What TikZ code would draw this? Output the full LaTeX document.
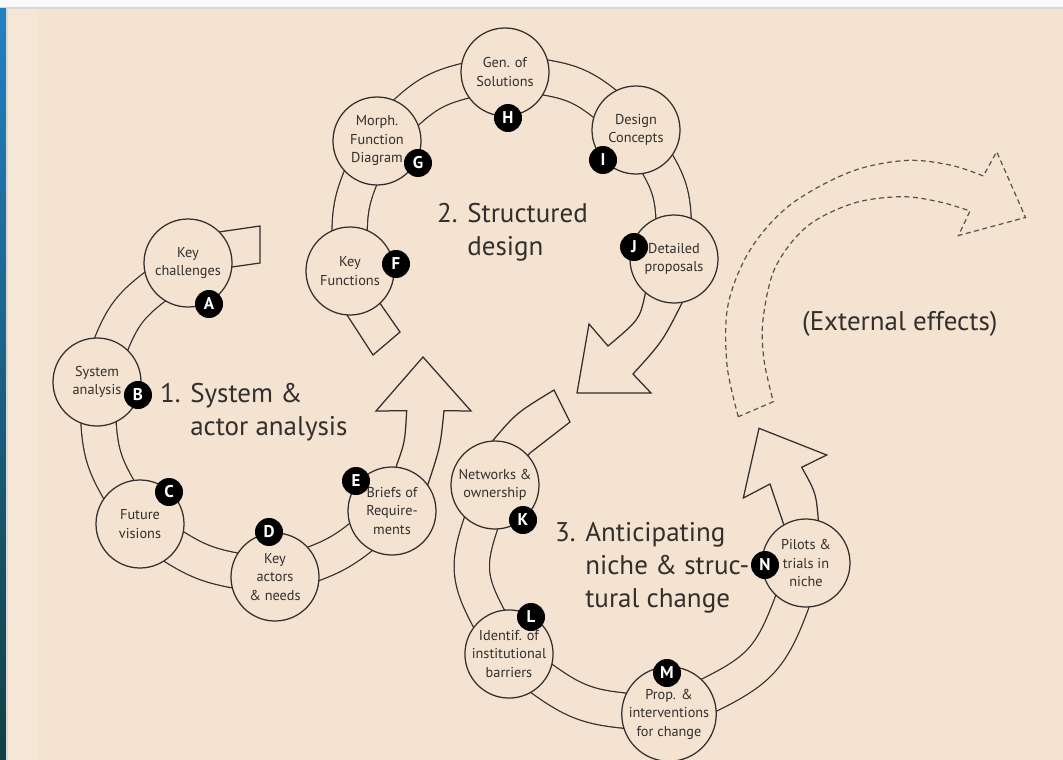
\documentclass[tikz,border=0pt]{standalone}
\usepackage{fontspec}
\setmainfont{PT Sans}
\usetikzlibrary{calc}
\pgfdeclarelayer{back}
\pgfdeclarelayer{bands}
\pgfsetlayers{back,bands,main}
\definecolor{paper}{RGB}{243,227,208}
\definecolor{paperlight}{RGB}{245,231,214}
\definecolor{ink}{RGB}{50,47,45}
\definecolor{dashink}{RGB}{85,82,78}
\definecolor{frame}{RGB}{214,216,220}
\definecolor{seablue}{RGB}{34,128,195}
\definecolor{seamid}{RGB}{22,108,176}
\definecolor{seadark}{RGB}{18,64,66}

\tikzset{
  stage/.style={circle, draw=ink, line width=1.25pt, fill=paper, minimum size=88pt,
    inner sep=0pt, align=center, text=ink, font=\fontsize{14.3}{18.5}\selectfont},
  badge/.style={circle, fill=black, text=white, minimum size=28pt, inner sep=0pt,
    font=\bfseries\fontsize{17}{17}\selectfont},
  band/.style={draw=ink, line width=1.25pt, double=paper, double distance=34pt},
  outline/.style={draw=ink, line width=1.25pt, line join=miter},
  phase/.style={anchor=base west, inner sep=0pt, align=left, text=ink,
    font=\fontsize{27}{33}\selectfont},
  effect/.style={draw=dashink, line width=1.2pt, dash pattern=on 5pt off 3.5pt},
}

\begin{document}
\begin{tikzpicture}[x=1pt,y=-1pt]
\useasboundingbox (0,0) rectangle (1063,760);

% page background, top frame and the strip on the left
\begin{pgfonlayer}{back}
  \fill[paper] (0,0) rectangle (1063,760);
  \fill[paperlight] (7,9) rectangle (37,760);
  \fill[white!96!gray] (0,0) rectangle (1063,7.5);
  \fill[frame] (0,7.5) rectangle (1063,9);
  \shade[top color=seablue, middle color=seamid, bottom color=seadark] (0,9) rectangle (6,760);
  \fill[frame] (6,9) rectangle (7.5,760);
\end{pgfonlayer}

% cycle 1: system & actor analysis
\node[stage] (A) at (188,263) {Key\\challenges};
\node[stage] (B) at (97,382)  {System\\analysis};
\node[stage] (C) at (140,524) {Future\\visions};
\node[stage] (D) at (275,577) {Key\\actors\\\& needs};
\node[stage] (E) at (392,511) {Briefs of\\Require-\\ments};

% cycle 2: structured design
\node[stage] (F) at (350,271) {Key\\Functions};
\node[stage] (G) at (377,141) {Morph.\\Function\\Diagram};
\node[stage] (H) at (505,72)  {Gen. of\\Solutions};
\node[stage] (I) at (636,130) {Design\\Concepts};
\node[stage] (J) at (674,259) {Detailed\\proposals};

% cycle 3: niche & structural change
\node[stage] (K) at (495,485) {Networks \&\\ownership};
\node[stage] (L) at (509,654) {Identif. of\\institutional\\barriers};
\node[stage] (M) at (669,714) {Prop. \&\\interventions\\for change};
\node[stage] (N) at (806,563) {Pilots \&\\trials in\\niche};

% letter badges
\node[badge] (bA) at (209,304) {A};
\node[badge] (bB) at (138,395) {B};
\node[badge] (bC) at (169,492) {C};
\node[badge] (bD) at (269,532) {D};
\node[badge] (bE) at (356,481) {E};
\node[badge] (bF) at (396,264) {F};
\node[badge] (bG) at (418,163) {G};
\node[badge] (bH) at (508,118) {H};
\node[badge] (bI) at (603,160) {I};
\node[badge] (bJ) at (634,247) {J};
\node[badge] (bK) at (523,520) {K};
\node[badge] (bL) at (531,617) {L};
\node[badge] (bM) at (667,673) {M};
\node[badge] (bN) at (765,565) {N};

% phase titles (anchored on the baseline of their last line)
\node[phase] (t1) at (160,435) {1. System \&\\\phantom{1. }actor analysis};
\node[phase] (t2) at (437,255) {2. Structured\\\phantom{2. }design};
\node[phase] (t3) at (555,607) {3. Anticipating\\\phantom{3. }niche \& struc-\\\phantom{3. }tural change};
\node[phase] (ext) at (802,330) {(External effects)};

% bands joining the stages, drawn underneath the circles
\begin{pgfonlayer}{bands}
  \draw[band] (A.center) .. controls (123.7,308.1) .. (B.center);
  \draw[band] (B.center) .. controls (99.1,458.9) .. (C.center);
  \draw[band] (C.center) .. controls (201.5,565.7) .. (D.center);
  \draw[band] (D.center) .. controls (340,555.5) .. (E.center);

  \draw[band] (F.center) .. controls (348.5,202.9) .. (G.center);
  \draw[band] (G.center) .. controls (430.7,87.4) .. (H.center);
  \draw[band] (H.center) .. controls (579.3,81.2) .. (I.center);
  \draw[band] (I.center) .. controls (674.2,188.8) .. (J.center);

  \draw[band] (K.center) .. controls (462,572.7) .. (L.center);
  \draw[band] (L.center) .. controls (580,708.1) .. (M.center);
  \draw[band] (M.center) .. controls (769.5,667.5) .. (N.center);

  % open tails where each cycle starts
  \draw[outline] (205,234) -- (260,226) -- (260,263) -- (218,269);
  \draw[outline] (336,298) -- (373,355) -- (400,332) -- (370,289);
  \draw[outline] (485,452) -- (493.3,440) .. controls (516.3,413) .. (554,390)
                 -- (570,422) -- (530,453) -- (520,465);

  % broad arrow heads where each cycle ends
  \draw[outline] (395,475) -- (396.7,465) .. controls (404.9,442.1) .. (406.7,410.7)
                 -- (376,411) -- (423,357) -- (471,411) -- (444,410.7)
                 .. controls (440.4,446.4) .. (428.3,483.3) -- (424,495);
  \draw[outline] (647,285) -- (645,295) .. controls (639.5,319.5) .. (608,346)
                 -- (589,324) -- (577,393) -- (651,393) -- (633,374)
                 .. controls (662.5,341.5) .. (682,303) -- (686,293);
  \draw[outline] (788,533) -- (783.3,523.3) -- (770,484) -- (743.3,498)
                 -- (759,428.3) -- (826.7,455) -- (801.7,467.3)
                 .. controls (816,493) .. (818.3,520) -- (815,532);
\end{pgfonlayer}

% dashed arrow for external effects
\draw[effect] plot[smooth, tension=0.55] coordinates {(738.3,416.7) (727,365) (728,305)
    (750,250) (790,205) (850,172) (905,160.5) (950,165) (983.3,176)}
  -- (996.7,151.7) -- (1025.5,217.5) -- (958.5,235.5)
  -- plot[smooth, tension=0.55] coordinates {(970,211) (940,202) (901.7,196.7)
    (853.3,203.3) (806.7,226.7) (775,268) (763,320) (764,360) (773.3,401.7)}
  -- cycle;
\end{tikzpicture}
\end{document}
